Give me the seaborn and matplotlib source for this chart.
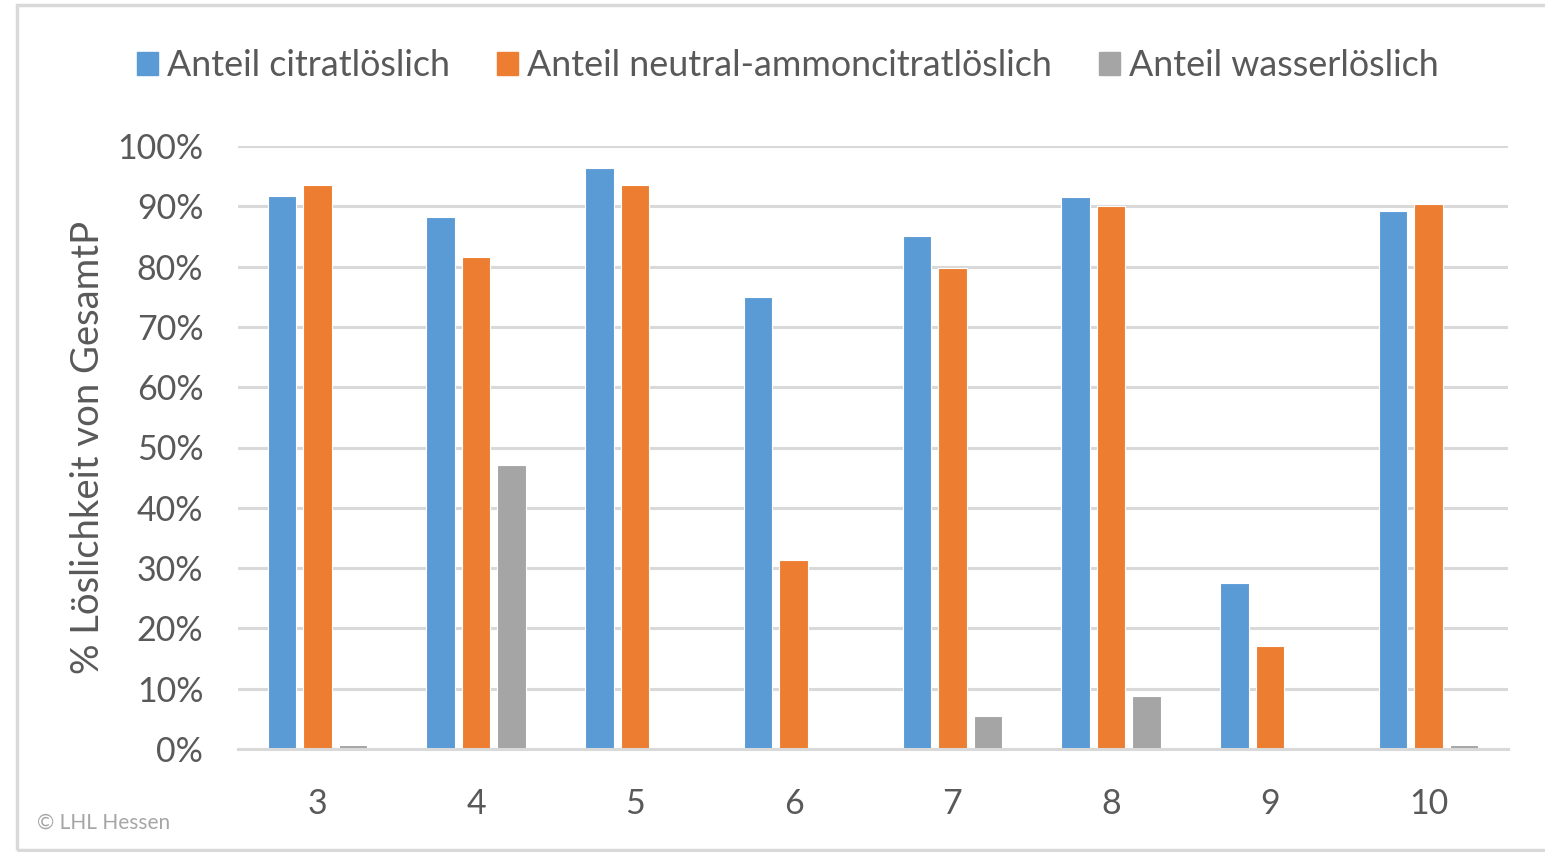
import matplotlib
matplotlib.use("Agg")
import matplotlib.pyplot as plt
import matplotlib.patches as mpatches
import seaborn as sns
import pandas as pd
from matplotlib.ticker import PercentFormatter

categories = ["3", "4", "5", "6", "7", "8", "9", "10"]
citrat = [91.7, 88.2, 96.4, 75.0, 85.1, 91.5, 27.5, 89.2]
ammoncitrat = [93.5, 81.6, 93.5, 31.3, 79.8, 90.0, 17.1, 90.4]
wasser = [0.7, 47.1, 0.0, 0.0, 5.5, 8.8, 0.0, 0.7]
series_names = ["Anteil citratlöslich", "Anteil neutral-ammoncitratlöslich", "Anteil wasserlöslich"]
colors = ["#5B9BD5", "#ED7D31", "#A5A5A5"]

frames = []
for name, vals in zip(series_names, [citrat, ammoncitrat, wasser]):
    frames.append(pd.DataFrame({"cat": categories, "serie": name, "val": [v / 100 for v in vals]}))
df = pd.concat(frames, ignore_index=True)

sns.set_theme(style="white")
plt.rcParams["font.family"] = ["Lato", "DejaVu Sans"]
text_col = "#595959"

fig = plt.figure(figsize=(15.45, 8.52), dpi=100)
ax = fig.add_axes([238 / 1545, 1 - 749 / 852, (1508 - 238) / 1545, (749 - 146) / 852])

sns.barplot(data=df, x="cat", y="val", hue="serie", order=categories, hue_order=series_names,
            palette=colors, width=0.67, gap=0.2, ax=ax, saturation=1, legend=False,
            edgecolor="white", linewidth=0.8)

ax.set_ylim(0, 1.0)
ax.set_xlim(-0.5, len(categories) - 0.5)
ax.yaxis.set_major_formatter(PercentFormatter(1.0, decimals=0))
ax.set_yticks([i / 10 for i in range(11)])
ax.grid(axis="y", color="#D9D9D9", linewidth=2.2)
ax.set_axisbelow(True)
for s in ["top", "right", "left"]:
    ax.spines[s].set_visible(False)
ax.spines["bottom"].set_color("#D9D9D9")
ax.spines["bottom"].set_linewidth(2.2)
ax.tick_params(axis="both", length=0, labelsize=24.5, labelcolor=text_col)
ax.tick_params(axis="y", pad=25)
ax.tick_params(axis="x", pad=28)
ax.set_xlabel("")
ax.set_ylabel("% Löslichkeit von GesamtP", fontsize=27.5, color=text_col, labelpad=8)

handles = [mpatches.Patch(color=c, label=n) for c, n in zip(colors, series_names)]
fig.legend(handles=handles, loc="center", bbox_to_anchor=(788 / 1545, 1 - 66 / 852), ncol=3,
           frameon=False, fontsize=25.8, labelcolor=text_col, handlelength=0.6, handleheight=0.6,
           handletextpad=0.25, columnspacing=1.3, borderpad=0)

fig.text(37 / 1545, 1 - 823 / 852, "© LHL Hessen", fontsize=15, color="#A6A6A6", va="center", ha="left")

fig.patches.append(mpatches.Rectangle((17 / 1545, 2 / 852), 1 - 17 / 1545 + 0.01, 1 - 7 / 852,
                                      transform=fig.transFigure, fill=False, edgecolor="#D9D9D9",
                                      linewidth=2.5))

fig.savefig("out.png", dpi=100)
